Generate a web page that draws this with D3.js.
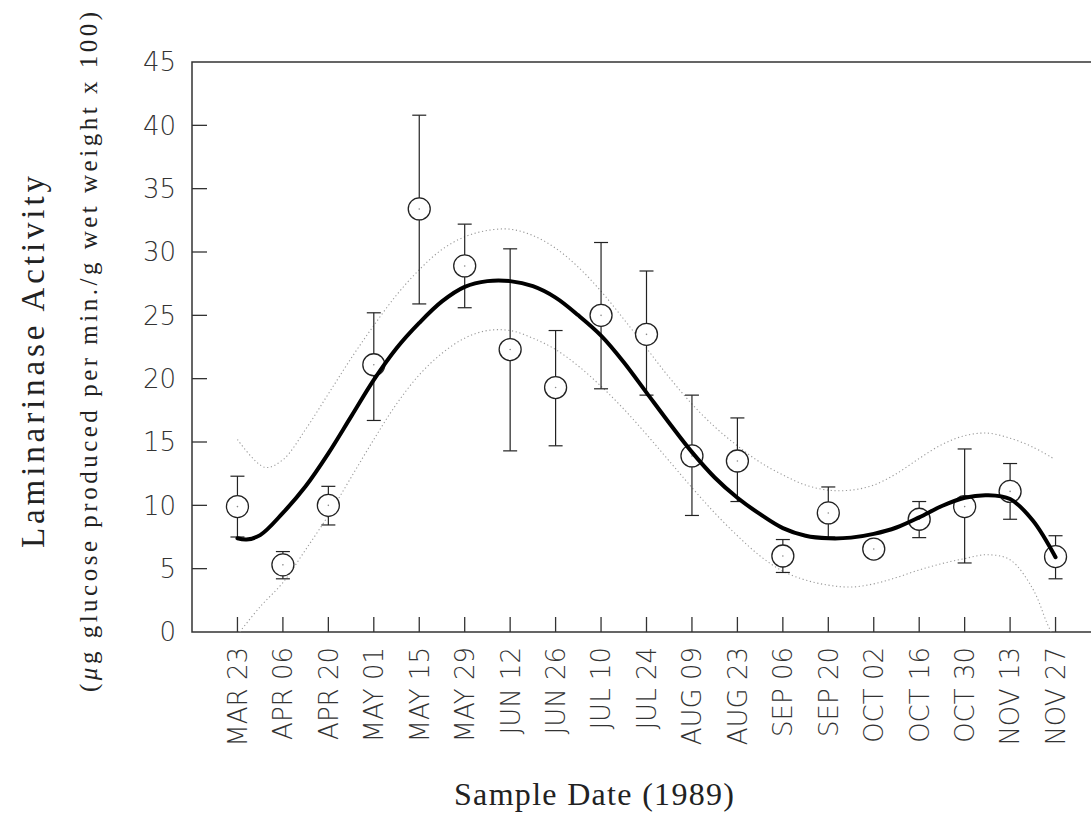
<!DOCTYPE html>
<html>
<head>
<meta charset="utf-8">
<script src="https://cdn.jsdelivr.net/npm/d3@7"></script>
<style>
  body { margin: 0; background: #fff; }
  .tick-label { font-family: "DejaVu Sans", sans-serif; font-weight: 200; font-size: 26px; fill: #333; }
  .title { font-family: "Liberation Serif", "DejaVu Serif", serif; fill: #222; }
</style>
</head>
<body>
<div id="chart"></div>
<script>
// sample dates (categories along x)
var dates = ["MAR 23", "APR 06", "APR 20", "MAY 01", "MAY 15", "MAY 29", "JUN 12", "JUN 26",
  "JUL 10", "JUL 24", "AUG 09", "AUG 23", "SEP 06", "SEP 20", "OCT 02", "OCT 16",
  "OCT 30", "NOV 13", "NOV 27"];

// mean activity and error bar ends
var means = [9.9, 5.3, 10.0, 21.1, 33.4, 28.9, 22.3, 19.3, 25.0, 23.5, 13.9, 13.5, 6.0, 9.4, 6.55, 8.9, 9.9, 11.1, 5.95];
var upper = [12.3, 6.35, 11.5, 25.2, 40.8, 32.2, 30.25, 23.8, 30.75, 28.5, 18.7, 16.9, 7.3, 11.45, 6.55, 10.3, 14.45, 13.3, 7.6];
var lower = [7.5, 4.2, 8.45, 16.7, 25.9, 25.6, 14.3, 14.7, 19.2, 18.7, 9.2, 10.3, 4.7, 7.5, 6.55, 7.45, 5.45, 8.9, 4.2];

// fitted curve (position in date steps, value)
var fitPos = [0, 0.2, 0.5, 1, 1.5, 2, 2.5, 3, 3.5, 4, 4.5, 5, 5.5, 6, 6.5, 7, 7.5, 8, 8.5, 9, 9.5, 10, 10.5, 11, 11.5, 12, 12.5, 13, 13.5, 14, 14.5, 15, 15.5, 16, 16.5, 17, 17.5, 18];
var fitVal = [7.4, 7.3, 7.65, 9.4, 11.5, 14.1, 17.0, 19.9, 22.4, 24.4, 26.1, 27.25, 27.7, 27.7, 27.3, 26.4, 25.0, 23.4, 21.3, 18.9, 16.5, 14.2, 12.2, 10.6, 9.3, 8.2, 7.6, 7.4, 7.45, 7.75, 8.25, 9.05, 9.95, 10.6, 10.8, 10.5, 8.8, 5.9];

// confidence band, upper dotted line
var bandHiPos = [0, 0.6, 1, 1.5, 2, 2.5, 3, 3.5, 4, 4.5, 5, 5.5, 6, 6.5, 7, 7.5, 8, 8.5, 9, 9.5, 10, 10.5, 11, 11.5, 12, 12.5, 13, 13.5, 14, 14.5, 15, 15.5, 16, 16.5, 17, 17.5, 17.95];
var bandHiVal = [15.2, 13.0, 13.6, 16.0, 18.8, 21.6, 24.2, 26.6, 28.6, 30.2, 31.2, 31.7, 31.8, 31.3, 30.3, 28.8, 26.9, 24.7, 22.4, 20.1, 18.0, 16.2, 14.7, 13.4, 12.4, 11.6, 11.2, 11.2, 11.6, 12.5, 13.7, 14.8, 15.5, 15.7, 15.3, 14.6, 13.7];

// confidence band, lower dotted line
var bandLoPos = [0.05, 0.5, 1, 1.5, 2, 2.5, 3, 3.5, 4, 4.5, 5, 5.5, 6, 6.5, 7, 7.5, 8, 8.5, 9, 9.5, 10, 10.5, 11, 11.5, 12, 12.5, 13, 13.5, 14, 14.5, 15, 15.5, 16, 16.5, 17, 17.5, 17.8, 17.9];
var bandLoVal = [0.0, 2.0, 3.9, 6.5, 9.2, 12.2, 15.2, 18.0, 20.3, 22.0, 23.2, 23.8, 23.8, 23.2, 22.3, 21.0, 19.4, 17.6, 15.6, 13.5, 11.4, 9.4, 7.6, 6.0, 4.8, 4.1, 3.7, 3.55, 3.8, 4.3, 4.9, 5.4, 5.8, 6.1, 5.7, 3.4, 0.8, 0.0];

var yTicks = [0, 5, 10, 15, 20, 25, 30, 35, 40, 45];

var width = 1091, height = 829;
var padL = 192, padT = 62, padB = 632, padR = 1101;

var svg = d3.select("#chart").append("svg")
  .attr("width", width)
  .attr("height", height);

var x = d3.scaleLinear().domain([-1, 19]).range([padL, padR]);
var y = d3.scaleLinear().domain([0, 45]).range([padB, padT]);

// frame: left, top and bottom lines (the right side runs off the picture)
svg.append("path")
  .attr("d", "M" + width + "," + padT + "H" + padL + "V" + padB + "H" + width)
  .attr("fill", "none")
  .attr("stroke", "#333")
  .attr("stroke-width", 1.5);

// y ticks and labels
yTicks.forEach(function (t) {
  if (t > 0 && t < 45) {
    svg.append("line")
      .attr("x1", padL).attr("x2", padL + 15)
      .attr("y1", y(t)).attr("y2", y(t))
      .attr("stroke", "#333").attr("stroke-width", 1.3);
  }
  svg.append("text")
    .attr("class", "tick-label")
    .attr("x", 176)
    .attr("y", y(t))
    .attr("dy", "0.36em")
    .attr("text-anchor", "end")
    .text(t);
});

// x ticks and rotated labels
dates.forEach(function (d, i) {
  svg.append("line")
    .attr("x1", x(i)).attr("x2", x(i))
    .attr("y1", padB).attr("y2", padB - 15)
    .attr("stroke", "#333").attr("stroke-width", 1.3);
  svg.append("text")
    .attr("class", "tick-label")
    .attr("transform", "translate(" + x(i) + "," + 647 + ") rotate(-90)")
    .attr("dy", "0.36em")
    .attr("text-anchor", "end")
    .text(d);
});

// titles
svg.append("text")
  .attr("class", "title")
  .attr("transform", "translate(" + 594 + "," + 805 + ")")
  .attr("text-anchor", "middle")
  .attr("textLength", 280)
  .attr("lengthAdjust", "spacing")
  .style("font-size", "32px")
  .text("Sample Date (1989)");

svg.append("text")
  .attr("class", "title")
  .attr("transform", "translate(" + 44 + "," + 362 + ") rotate(-90)")
  .attr("text-anchor", "middle")
  .attr("textLength", 372)
  .attr("lengthAdjust", "spacing")
  .style("font-size", "33px")
  .text("Laminarinase Activity");

var sub = svg.append("text")
  .attr("class", "title")
  .attr("transform", "translate(" + 97 + "," + 352 + ") rotate(-90)")
  .attr("text-anchor", "middle")
  .attr("textLength", 680)
  .attr("lengthAdjust", "spacing")
  .style("font-size", "25px");
sub.append("tspan").text("(");
sub.append("tspan").style("font-style", "italic").text("μ");
sub.append("tspan").text("g glucose produced per min./g wet weight x 100)");

// confidence bands
var line = d3.line()
  .x(function (d) { return x(d[0]); })
  .y(function (d) { return y(d[1]); })
  .curve(d3.curveCatmullRom);

svg.append("path")
  .attr("d", line(d3.zip(bandHiPos, bandHiVal)))
  .attr("fill", "none")
  .attr("stroke", "#999")
  .attr("stroke-width", 1.1)
  .attr("stroke-dasharray", "1.2,2.6");

svg.append("path")
  .attr("d", line(d3.zip(bandLoPos, bandLoVal)))
  .attr("fill", "none")
  .attr("stroke", "#999")
  .attr("stroke-width", 1.1)
  .attr("stroke-dasharray", "1.2,2.6");

// error bars
var g = svg.append("g").attr("stroke", "#222").attr("stroke-width", 1.2);
means.forEach(function (m, i) {
  if (upper[i] - lower[i] < 0.1) return;
  g.append("line").attr("x1", x(i)).attr("x2", x(i)).attr("y1", y(upper[i])).attr("y2", y(lower[i]));
  g.append("line").attr("x1", x(i) - 7).attr("x2", x(i) + 7).attr("y1", y(upper[i])).attr("y2", y(upper[i]));
  g.append("line").attr("x1", x(i) - 7).attr("x2", x(i) + 7).attr("y1", y(lower[i])).attr("y2", y(lower[i]));
});

// circles
svg.append("g").selectAll("circle")
  .data(means)
  .enter()
  .append("circle")
  .attr("cx", function (d, i) { return x(i); })
  .attr("cy", function (d) { return y(d); })
  .attr("r", 11)
  .attr("fill", "#fff")
  .attr("stroke", "#222")
  .attr("stroke-width", 1.3);

svg.append("g").selectAll("circle")
  .data(means)
  .enter()
  .append("circle")
  .attr("cx", function (d, i) { return x(i); })
  .attr("cy", function (d) { return y(d); })
  .attr("r", 0.8)
  .attr("fill", "#888");

// fitted curve
svg.append("path")
  .attr("d", line(d3.zip(fitPos, fitVal)))
  .attr("fill", "none")
  .attr("stroke", "#000")
  .attr("stroke-width", 4)
  .attr("stroke-linecap", "round");
</script>
</body>
</html>
